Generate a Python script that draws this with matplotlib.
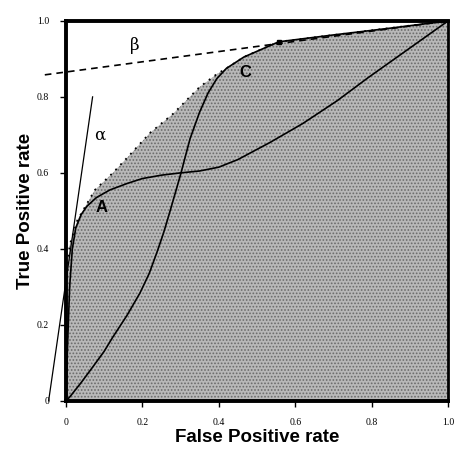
import matplotlib
matplotlib.use('Agg')
import matplotlib.pyplot as plt

# ROC curve A
a_x = [0, 0.003, 0.006, 0.01, 0.017, 0.026, 0.04, 0.055, 0.08, 0.115, 0.16, 0.2, 0.25, 0.30, 0.35, 0.40, 0.45, 0.534, 0.62, 0.71, 0.79, 0.86, 0.93, 1.0]
a_y = [0, 0.1, 0.19, 0.30, 0.40, 0.455, 0.49, 0.512, 0.535, 0.555, 0.572, 0.585, 0.594, 0.60, 0.605, 0.615, 0.635, 0.68, 0.73, 0.79, 0.85, 0.90, 0.95, 1.0]

# ROC curve C
c_x = [0, 0.01, 0.04, 0.071, 0.1, 0.123, 0.16, 0.194, 0.218, 0.238, 0.255, 0.267, 0.28, 0.30, 0.325, 0.35, 0.372, 0.395, 0.42, 0.466, 0.557, 0.7, 0.85, 1.0]
c_y = [0, 0.01, 0.048, 0.09, 0.13, 0.168, 0.225, 0.284, 0.335, 0.39, 0.44, 0.48, 0.525, 0.595, 0.69, 0.76, 0.81, 0.848, 0.875, 0.905, 0.945, 0.963, 0.981, 1.0]

# convex hull (shaded)
h_x = [0, 0.0, 0.01, 0.03, 0.05, 0.076, 0.123, 0.167, 0.22, 0.28, 0.35, 0.395, 0.42, 0.466, 0.557, 1.0]
h_y = [0, 0.30, 0.41, 0.475, 0.51, 0.555, 0.60, 0.647, 0.705, 0.755, 0.826, 0.86, 0.875, 0.905, 0.945, 1.0]

# tangent lines
alpha_x = [-0.045, 0.07]
alpha_y = [0.0, 0.80]
beta_x = [-0.055, 1.0]
beta_y = [0.858, 1.0]

ticks = [0, 0.2, 0.4, 0.6, 0.8, 1.0]
tick_labels = ['0', '0.2', '0.4', '0.6', '0.8', '1.0']

plt.rcParams['hatch.linewidth'] = 0.8

fig = plt.figure(figsize=(4.54, 4.54), dpi=100)
ax = fig.add_axes([0.145, 0.117, 0.842, 0.837])

ax.fill_between(h_x, 0, h_y, facecolor='#b8b8b8', edgecolor='#6a6a6a', hatch='.....', linewidth=0)
ax.plot(h_x, h_y, ls=(0, (1, 3)), color='black', lw=1.3)

ax.plot(a_x, a_y, color='black', lw=1.2)
ax.plot(c_x, c_y, color='black', lw=1.2)
ax.plot(alpha_x, alpha_y, color='black', lw=0.9, clip_on=False)
ax.plot(beta_x, beta_y, color='black', lw=1.2, ls=(0, (4, 3)), clip_on=False)
ax.plot([0.557], [0.945], marker='s', color='black', ms=3.5)

ax.text(0.094, 0.51, 'A', fontsize=12, fontweight='bold', family='Liberation Sans', ha='center', va='center')
ax.text(0.47, 0.865, 'C', fontsize=12, fontweight='bold', family='Liberation Sans', ha='center', va='center')
ax.text(0.09, 0.70, 'α', fontsize=12, family='DejaVu Serif', ha='center', va='center')
ax.text(0.18, 0.935, 'β', fontsize=12, family='DejaVu Serif', ha='center', va='center')

ax.set_xlim(0, 1)
ax.set_ylim(0, 1)
ax.set_xticks(ticks)
ax.set_xticklabels(tick_labels, family='Liberation Serif', fontsize=7)
ax.set_yticks(ticks)
ax.set_yticklabels(tick_labels, family='Liberation Serif', fontsize=7)
ax.tick_params(direction='out', length=4, width=1, pad=8)

for side in ['left', 'bottom', 'top']:
    ax.spines[side].set_linewidth(2.8)
ax.spines['right'].set_linewidth(2)

ax.set_xlabel('False Positive rate', fontsize=13.5, fontweight='bold', family='Liberation Sans', labelpad=2)
ax.set_ylabel('True Positive rate', fontsize=13.5, fontweight='bold', family='Liberation Sans', labelpad=2)

fig.savefig('out.png', dpi=100)
